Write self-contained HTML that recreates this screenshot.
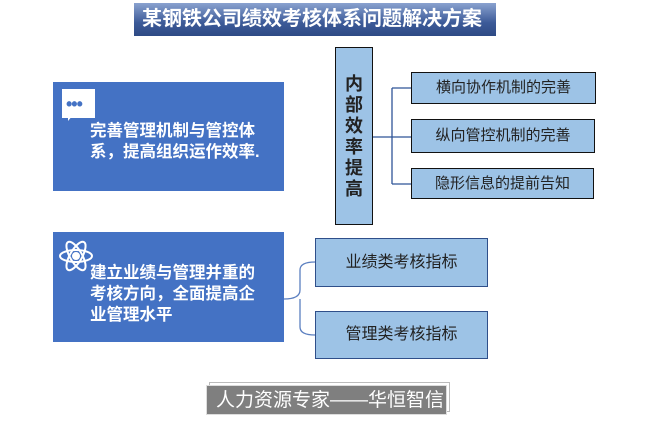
<!DOCTYPE html>
<html><head><meta charset="utf-8"><style>
body{margin:0;width:651px;height:424px;background:#fff;position:relative;overflow:hidden;font-family:"Liberation Sans","Noto Sans CJK SC",sans-serif}
.a{position:absolute;box-sizing:border-box}
.t{left:134px;top:3px;width:362px;height:33px;background:linear-gradient(#8aa2cf,#3c5a98 60%,#2e4a85);color:#fff;font-weight:bold;font-size:20px;line-height:33px;padding-left:8px;white-space:nowrap}
.bb{background:#4472c4;color:#fff;font-weight:bold;font-size:16.5px;line-height:21px}
.lb{background:#9dc3e6;border:1px solid #2f4f8a;text-align:center;font-size:15px;color:#222}
.rb{border:1px solid #111;line-height:30px}
</style></head><body>
<div class="a t">某钢铁公司绩效考核体系问题解决方案</div>
<div class="a bb" style="left:53px;top:82px;width:231px;height:109px;padding:39px 0 0 37px">完善管理机制与管控体<br>系，提高组织运作效率.</div>
<div class="a" style="left:62px;top:89px;width:33px;height:29px;background:#fff"></div>
<div class="a" style="left:68px;top:115px;width:0;height:0;border-left:5px solid #fff;border-bottom:6px solid transparent"></div>
<div class="a" style="left:66px;top:95px;font-size:18px;line-height:18px;color:#4472c4;font-weight:bold;letter-spacing:-1px">•••</div>
<div class="a lb" style="left:335px;top:47px;width:38px;height:178px;border-color:#111;font-weight:bold;font-size:18px;line-height:21px;padding-top:26px">内<br>部<br>效<br>率<br>提<br>高</div>
<div class="a lb rb" style="left:411px;top:72px;width:185px;height:32px">横向协作机制的完善</div>
<div class="a lb rb" style="left:411px;top:119px;width:184px;height:34px;line-height:32px">纵向管控机制的完善</div>
<div class="a lb rb" style="left:411px;top:168px;width:183px;height:31px;line-height:29px">隐形信息的提前告知</div>
<div class="a bb" style="left:53px;top:232px;width:231px;height:110px;padding:31px 0 0 37px">建立业绩与管理并重的<br>考核方向，全面提高企<br>业管理水平</div>
<div class="a lb" style="left:315px;top:238px;width:173px;height:49px;line-height:47px;font-size:16px">业绩类考核指标</div>
<div class="a lb" style="left:315px;top:311px;width:173px;height:48px;line-height:46px;font-size:16px">管理类考核指标</div>
<svg class="a" style="left:0;top:0" width="651" height="424">
<path d="M373 137H392M392 88V184M392 88H411M392 137H411M392 184H411" stroke="#2f5597" stroke-width="1.3" fill="none"/>
<path d="M284 299Q300 299 300 290V270Q300 262 315 262M300 299V327Q300 335 315 335" stroke="#5b7fc0" stroke-width="1.3" fill="none"/>
<g stroke="#fff" stroke-width="2" fill="none"><ellipse cx="76" cy="256" rx="16" ry="6"/><ellipse cx="76" cy="256" rx="16" ry="6" transform="rotate(60 76 256)"/><ellipse cx="76" cy="256" rx="16" ry="6" transform="rotate(-60 76 256)"/><circle cx="76" cy="256" r="3" fill="#fff"/></g>
</svg>
<div class="a" style="left:209px;top:382px;width:241px;height:30px;border:1px solid #bbb"></div>
<div class="a" style="left:206px;top:385px;width:241px;height:30px;background:#7f7f7f;color:#fff;font-size:19px;line-height:30px;padding-left:9px;border:1px solid #ddd">人力资源专家——华恒智信</div>
</body></html>
